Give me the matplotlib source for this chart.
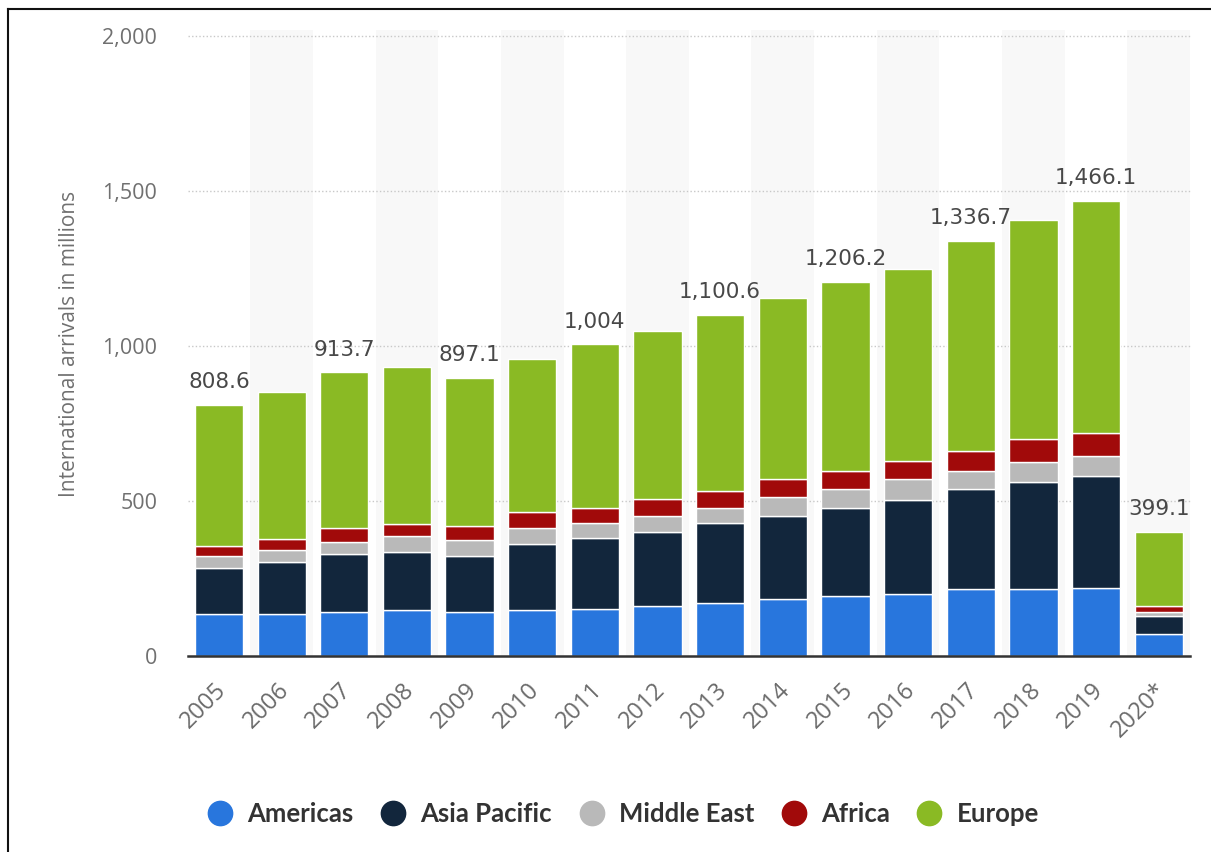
import matplotlib
matplotlib.use("Agg")
import matplotlib.pyplot as plt
from matplotlib.lines import Line2D
import matplotlib.transforms as mtransforms
import numpy as np

years = ['2005', '2006', '2007', '2008', '2009', '2010', '2011', '2012',
         '2013', '2014', '2015', '2016', '2017', '2018', '2019', '2020*']
americas = [134, 134, 140, 146, 140, 147, 152, 160, 169, 182, 192.6, 199, 214, 214, 219, 69.9]
asia_pacific = [149, 167, 186.5, 187, 181, 213.8, 227, 240, 258, 269.6, 284.8, 303, 323, 346, 361.6, 57]
middle_east = [39, 39, 39.5, 53.5, 51.6, 51.4, 48, 51.6, 50, 59.4, 59.4, 67, 58, 65, 64.4, 15.5]
africa = [32, 38, 45, 38.5, 45.1, 52, 50, 53.9, 54, 60, 58, 58, 64, 73, 72.4, 16.5]
europe = [454.6, 474, 502.7, 505.6, 479.4, 492, 527, 542.5, 569.6, 582, 611.4, 621, 677.7, 709, 748.7, 240.2]
total_labels = ['808.6', '', '913.7', '', '897.1', '', '1,004', '', '1,100.6', '',
                '1,206.2', '', '1,336.7', '', '1,466.1', '399.1']
series_names = ['Americas', 'Asia Pacific', 'Middle East', 'Africa', 'Europe']
series_colors = ['#2876dd', '#12263c', '#b9b9b9', '#a10a0a', '#8aba24']
yticks = [0, 500, 1000, 1500, 2000]
ytick_labels = ['0', '500', '1,000', '1,500', '2,000']
y_label = 'International arrivals in millions'

W, H = 1211, 852
fig = plt.figure(figsize=(W / 100, H / 100), dpi=100)
fig.patch.set_facecolor('white')

ax_l, ax_r = 187.7, 1190.0
ax_t, ax_b = 35.7, 655.7
ax = fig.add_axes([ax_l / W, 1 - ax_b / H, (ax_r - ax_l) / W, (ax_b - ax_t) / H])
ax.set_facecolor('white')

n = len(years)
x = np.arange(n)
ax.set_xlim(-0.5, n - 0.5)
ax.set_ylim(0, 2000)

# alternating background bands
for i in range(n):
    if i % 2 == 1:
        ax.axvspan(i - 0.5, i + 0.5, ymin=0, ymax=1.01, color='#f8f8f8', zorder=0, lw=0, clip_on=False)

# grid lines
for yv in yticks[1:]:
    ax.axhline(yv, color='#c8c8c8', lw=1.0, ls=(0, (1, 1.6)), zorder=1, clip_on=False)

series = [americas, asia_pacific, middle_east, africa, europe]
bottom = np.zeros(n)
for vals, col in zip(series, series_colors):
    vals = np.array(vals, dtype=float)
    ax.bar(x, vals, bottom=bottom, width=0.77, color=col, edgecolor='white', linewidth=1.0, zorder=3)
    bottom += vals
totals = bottom

# baseline
ax.axhline(0, color='#333333', lw=1.8, zorder=4, clip_on=False)

# value labels
for i, lab in enumerate(total_labels):
    if lab:
        ax.annotate(lab, (x[i], totals[i]), xytext=(0, 16.5), textcoords='offset points',
                    ha='center', va='center', fontsize=15.5, color='#484848',
                    family='DejaVu Sans', zorder=5, annotation_clip=False)

for s in ax.spines.values():
    s.set_visible(False)

ax.set_yticks(yticks)
ax.set_yticklabels(ytick_labels, fontsize=15.5, color='#707070', family='Open Sans')
ax.tick_params(axis='y', length=0, pad=22)
ax.set_xticks([])

# x tick labels rotated
offset = mtransforms.ScaledTranslation(4 / 100, -31 / 100, fig.dpi_scale_trans)
trans = mtransforms.blended_transform_factory(ax.transData, ax.transAxes) + offset
for i, yr in enumerate(years):
    ax.text(x[i], 0, yr, transform=trans, rotation=45, ha='right', va='center',
            rotation_mode='anchor', fontsize=17, color='#6a6a6a', family='Open Sans')

fig.text(70 / W, 1 - 344 / H, y_label, rotation=90, ha='center', va='center',
         fontsize=15, color='#707070', family='Open Sans')

# legend
handles = [Line2D([0], [0], marker='o', linestyle='', markersize=17.5,
                  markerfacecolor=c, markeredgecolor=c) for c in series_colors]
leg = fig.legend(handles, series_names, loc='center', bbox_to_anchor=(623 / W, 1 - 814 / H),
                 ncol=5, frameon=False, handlelength=1.0, handletextpad=0.55,
                 columnspacing=1.05, prop={'family': 'Lato', 'weight': 'bold', 'size': 18.5})
for t in leg.get_texts():
    t.set_color('#333333')

# border lines of the screenshot frame
fig.add_artist(Line2D([8 / W, 8 / W], [0, 1 - 9 / H], color='#111111', lw=1.5, transform=fig.transFigure))
fig.add_artist(Line2D([8 / W, 1], [1 - 9 / H, 1 - 9 / H], color='#111111', lw=1.5, transform=fig.transFigure))

fig.savefig('out.png', dpi=100, facecolor='white')
